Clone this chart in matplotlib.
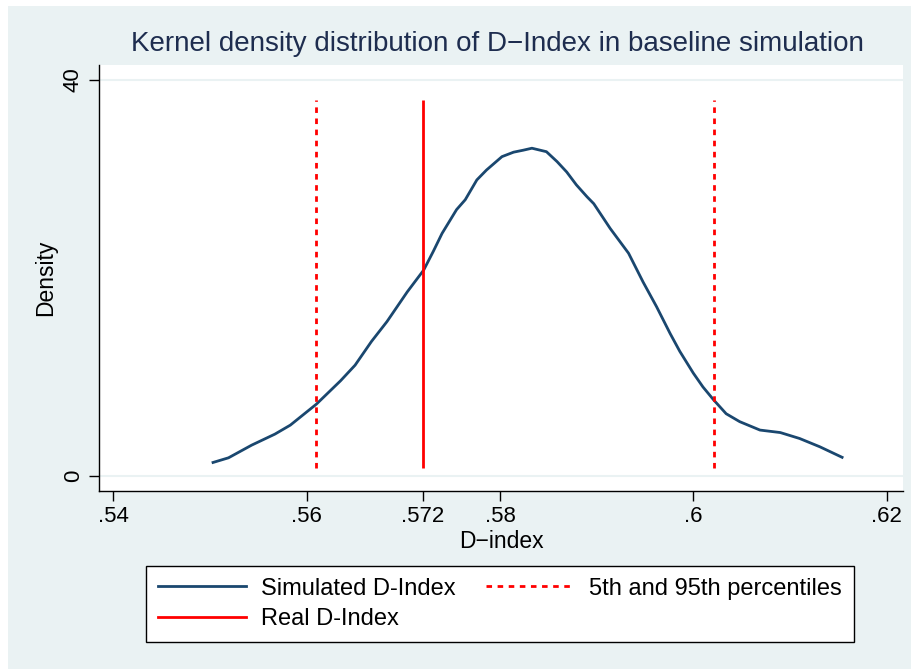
import matplotlib
matplotlib.use("Agg")
import matplotlib.pyplot as plt
from matplotlib.patches import Rectangle
from matplotlib.lines import Line2D

# Kernel density of simulated D-Index
d_index = [0.5503, 0.5519, 0.5543, 0.5567, 0.5583, 0.5610, 0.5635, 0.5650,
           0.5667, 0.5683, 0.5704, 0.5721, 0.5731, 0.5740, 0.5755, 0.5764,
           0.5776, 0.5786, 0.5802, 0.5814, 0.5824, 0.5833, 0.5848, 0.5859,
           0.5869, 0.5879, 0.5890, 0.5897, 0.5914, 0.5933, 0.5948, 0.5962,
           0.5976, 0.5986, 0.6000, 0.6010, 0.6021, 0.6034, 0.6048, 0.6069,
           0.6090, 0.6110, 0.6131, 0.6154]
density = [1.38, 1.85, 3.13, 4.24, 5.15, 7.27, 9.63, 11.2,
           13.6, 15.6, 18.6, 20.8, 22.7, 24.5, 26.9, 27.9,
           29.9, 30.9, 32.25, 32.7, 32.9, 33.1, 32.75, 31.75,
           30.7, 29.4, 28.2, 27.5, 25.0, 22.5, 19.6, 17.1,
           14.4, 12.6, 10.4, 9.0, 7.7, 6.3, 5.5, 4.65,
           4.4, 3.8, 2.96, 1.9]

real_d = 0.572
percentiles = [0.5610, 0.6021]
vline_range = [0.8, 38]

x_ticks = [0.54, 0.56, 0.572, 0.58, 0.6, 0.62]
x_labels = [".54", ".56", ".572", ".58", ".6", ".62"]
y_ticks = [0, 40]

bg = "#EAF2F3"
navy = "#1A476F"

plt.rcParams["font.family"] = ["Liberation Sans", "DejaVu Sans"]

fig = plt.figure(figsize=(9.12, 6.69), dpi=100)
fig.patch.set_facecolor("white")
# light blue outer region (small white margin top and left, as in the original)
fig.add_artist(Rectangle((8 / 912, 0), 1, 1 - 6 / 669, transform=fig.transFigure,
                         facecolor=bg, edgecolor="none", zorder=-10))

ax = fig.add_axes([99 / 912, 1 - 491 / 669, (903 - 99) / 912, (491 - 65) / 669])
ax.set_facecolor("white")

for y in y_ticks:
    ax.axhline(y, color=bg, lw=1.5, zorder=0)

ax.plot(d_index, density, color=navy, lw=2)
ax.vlines(real_d, vline_range[0], vline_range[1], color="red", lw=2)
ax.vlines(percentiles, vline_range[0], vline_range[1], color="red", lw=2,
          linestyles=(0, (2, 2)))

ax.set_xlim(0.5385, 0.6217)
ax.set_ylim(-1.5, 41.5)
ax.set_xticks(x_ticks)
ax.set_xticklabels(x_labels)
ax.set_yticks(y_ticks)
ax.set_yticklabels(["0", "40"], rotation=90, va="center")
ax.tick_params(labelsize=16, length=7, width=1, direction="out", pad=4)
for s in ["top", "right"]:
    ax.spines[s].set_visible(False)
for s in ["left", "bottom"]:
    ax.spines[s].set_linewidth(1)

ax.set_xlabel("D\u2212index", fontsize=16.5, labelpad=2)
ax.set_ylabel("Density", fontsize=16.5, labelpad=4)
fig.text(0.545, 1 - 44 / 669, "Kernel density distribution of D\u2212Index in baseline simulation",
         ha="center", va="center", fontsize=20, color="#1E2D4F")

h_sim = Line2D([], [], color=navy, lw=2)
h_real = Line2D([], [], color="red", lw=2)
h_pct = Line2D([], [], color="red", lw=2, linestyle=(0, (2, 2)))
leg = fig.legend([h_sim, h_real, h_pct],
                 ["Simulated D-Index", "Real D-Index", "5th and 95th percentiles"],
                 ncol=2, loc="center", bbox_to_anchor=(500 / 912, 1 - 604 / 669),
                 fontsize=17, frameon=True, fancybox=False, framealpha=1,
                 handlelength=3.7, handletextpad=0.65, columnspacing=1.3,
                 labelspacing=0.36, borderpad=0.5, borderaxespad=0)
leg.get_frame().set_edgecolor("black")
leg.get_frame().set_linewidth(1)

fig.savefig("out.png", dpi=100, facecolor=fig.get_facecolor())
